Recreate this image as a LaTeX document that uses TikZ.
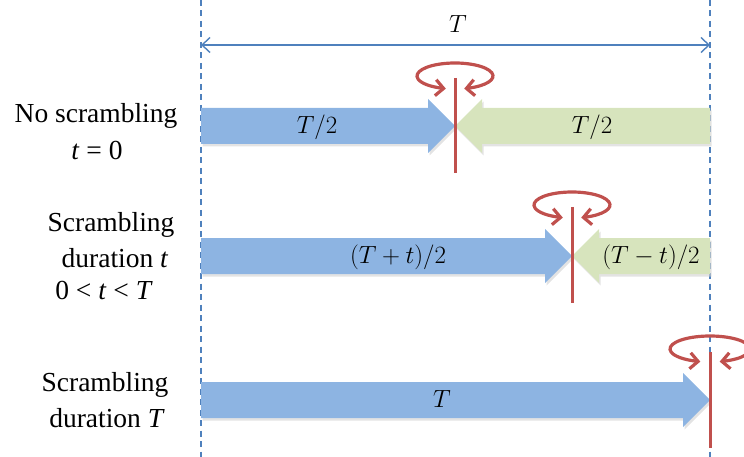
\documentclass[tikz,border=0pt]{standalone}
\usepackage{fontspec}
\setmainfont{Liberation Serif}
\usetikzlibrary{arrows.meta,bending}
\definecolor{abl}{RGB}{141,180,226}
\definecolor{agr}{RGB}{215,228,189}
\definecolor{ared}{RGB}{192,80,77}
\definecolor{dblue}{RGB}{79,129,189}
\begin{document}
\begin{tikzpicture}[x=1pt,y=-1pt,
  guide/.style={dblue, line width=1.1pt, dash pattern=on 6pt off 4.5pt},
  span/.style={dblue, line width=1.4pt,
    {Straight Barb[length=8pt,width=15pt]}-{Straight Barb[length=8pt,width=15pt]}},
  bluebar/.style={fill=abl},
  greenbar/.style={fill=agr},
  shade/.style={fill=black!18, opacity=0.6},
  redbar/.style={ared, line width=3pt},
  spin/.style={ared, line width=3.2pt,
    {Straight Barb[length=8pt,width=16pt,flex]}-{Straight Barb[length=8pt,width=16pt,flex]}},
  mlabel/.style={font=\fontsize{26}{30}\selectfont, inner sep=0pt},
  tlabel/.style={font=\fontsize{27.5}{33}\selectfont, inner sep=0pt}
]
\useasboundingbox (0,0) rectangle (744,457);

% guides
\coordinate (gl0) at (201,0); \coordinate (gl1) at (201,457);
\coordinate (gr0) at (710,0); \coordinate (gr1) at (710,457);
\draw[guide] (gl0) -- (gl1);
\draw[guide] (gr0) -- (gr1);

% span arrow
\coordinate (sl) at (201,45); \coordinate (sr) at (710,45);
\draw[span] (sl) -- (sr);
\node[mlabel] (tspan) at (458,24) {$T$};

% shadows
\begin{scope}[shift={(1.5,2.5)}]
\fill[shade] (201,108) -- (428,108) -- (428,99) -- (455,126) -- (428,153) -- (428,144) -- (201,144) -- cycle;
\fill[shade] (710,108) -- (482,108) -- (482,99) -- (455,126) -- (482,153) -- (482,144) -- (710,144) -- cycle;
\fill[shade] (201,238) -- (545,238) -- (545,229) -- (572,256) -- (545,283) -- (545,274) -- (201,274) -- cycle;
\fill[shade] (710,238) -- (599,238) -- (599,229) -- (572,256) -- (599,283) -- (599,274) -- (710,274) -- cycle;
\fill[shade] (201,382) -- (683,382) -- (683,373) -- (710,400) -- (683,427) -- (683,418) -- (201,418) -- cycle;
\end{scope}

% row 1
\fill[bluebar] (201,108) -- (428,108) -- (428,99) -- (455,126) -- (428,153) -- (428,144) -- (201,144) -- cycle;
\fill[greenbar] (710,108) -- (482,108) -- (482,99) -- (455,126) -- (482,153) -- (482,144) -- (710,144) -- cycle;
\node[mlabel] (a1) at (317,127) {$T/2$};
\node[mlabel] (b1) at (592,127) {$T/2$};
\coordinate (r1t) at (455,78); \coordinate (r1b) at (455,173);
\draw[redbar] (r1t) -- (r1b);
\draw[spin] (455,76) ++(76:38 and 13) arc[start angle=76, end angle=-256, x radius=38, y radius=13];

% row 2
\fill[bluebar] (201,238) -- (545,238) -- (545,229) -- (572,256) -- (545,283) -- (545,274) -- (201,274) -- cycle;
\fill[greenbar] (710,238) -- (599,238) -- (599,229) -- (572,256) -- (599,283) -- (599,274) -- (710,274) -- cycle;
\node[mlabel] (a2) at (398,257) {$(T+t)/2$};
\node[mlabel] (b2) at (651,257) {$(T-t)/2$};
\coordinate (r2t) at (572,207); \coordinate (r2b) at (572,303);
\draw[redbar] (r2t) -- (r2b);
\draw[spin] (572,205) ++(76:38 and 13) arc[start angle=76, end angle=-256, x radius=38, y radius=13];

% row 3
\fill[bluebar] (201,382) -- (683,382) -- (683,373) -- (710,400) -- (683,427) -- (683,418) -- (201,418) -- cycle;
\node[mlabel] (a3) at (442,399) {$T$};
\coordinate (r3t) at (710,352); \coordinate (r3b) at (710,448);
\draw[redbar] (r3t) -- (r3b);
\draw[spin] (710,349) ++(76:40 and 13) arc[start angle=76, end angle=-256, x radius=40, y radius=13];

% left labels
\node[tlabel] (n1a) at (96,116) {No scrambling};
\node[tlabel] (n1b) at (97,150) {\textit{t} = 0};
\node[tlabel] (n2a) at (111,225) {Scrambling};
\node[tlabel] (n2b) at (115,258) {duration \textit{t}};
\node[tlabel] (n2c) at (104,290) {0 < \textit{t} < \textit{T}};
\node[tlabel] (n3a) at (105,385) {Scrambling};
\node[tlabel] (n3b) at (107,418) {duration \textit{T}};
\end{tikzpicture}
\end{document}
